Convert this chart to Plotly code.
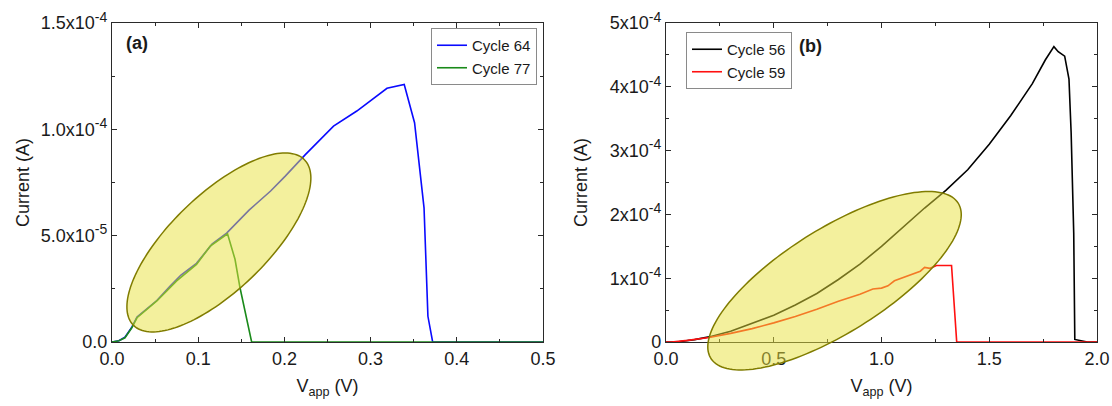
import numpy as np
import plotly.graph_objects as go

W, H = 1112, 406

# ---------------- data: panel (a) ----------------
v_c64 = [0, 0.008, 0.015, 0.023, 0.029, 0.040, 0.052, 0.068, 0.080, 0.098, 0.116, 0.133,
         0.159, 0.184, 0.201, 0.224, 0.257, 0.284, 0.319, 0.339, 0.351, 0.362, 0.3665, 0.372, 0.5]
i_c64 = [0, 6e-7, 2.2e-6, 7.0e-6, 1.18e-5, 1.55e-5, 1.95e-5, 2.65e-5, 3.15e-5, 3.7e-5, 4.6e-5, 5.12e-5,
         6.2e-5, 7.1e-5, 7.8e-5, 8.8e-5, 1.015e-4, 1.086e-4, 1.193e-4, 1.211e-4, 1.031e-4, 6.31e-5, 1.21e-5, 0, 0]

v_c77 = [0, 0.008, 0.015, 0.023, 0.029, 0.040, 0.052, 0.075, 0.098, 0.114, 0.134, 0.1427, 0.1485, 0.162, 0.5]
i_c77 = [0, 6e-7, 2.0e-6, 6.7e-6, 1.14e-5, 1.5e-5, 1.93e-5, 2.87e-5, 3.65e-5, 4.51e-5, 5.09e-5, 3.89e-5, 2.55e-5, 0, 0]

# ---------------- data: panel (b) ----------------
v_c56 = [0, 0.05, 0.133, 0.2, 0.3, 0.4, 0.5, 0.6, 0.7, 0.8, 0.9, 1.0, 1.1, 1.2, 1.3, 1.4, 1.5,
         1.6, 1.7, 1.76, 1.8, 1.82, 1.85, 1.87, 1.88, 1.892, 1.897, 1.92, 1.955, 2.0]
i_c56 = [0, 0, 3.7e-6, 8e-6, 1.7e-5, 2.9e-5, 4.2e-5, 5.8e-5, 7.6e-5, 9.8e-5, 1.22e-4, 1.5e-4, 1.8e-4,
         2.1e-4, 2.38e-4, 2.7e-4, 3.1e-4, 3.55e-4, 4.05e-4, 4.42e-4, 4.63e-4, 4.55e-4, 4.48e-4,
         4.12e-4, 3.28e-4, 1.71e-4, 4e-6, 2e-6, 0, 0]

v_c59 = [0, 0.026, 0.1, 0.2, 0.3, 0.4, 0.5, 0.6, 0.7, 0.8, 0.9, 0.96, 1.0, 1.03, 1.06, 1.12, 1.18,
         1.2, 1.225, 1.255, 1.325, 1.349, 2.0]
i_c59 = [0, 0, 2.5e-6, 7e-6, 1.35e-5, 2.1e-5, 3.0e-5, 4.0e-5, 5.15e-5, 6.4e-5, 7.5e-5, 8.3e-5, 8.45e-5,
         8.8e-5, 9.6e-5, 1.04e-4, 1.11e-4, 1.17e-4, 1.155e-4, 1.2e-4, 1.2e-4, 0, 0]

# ---------------- ticks ----------------
SUP = "<sup><span style='font-size:14px'>%s</span></sup>"
a_xticks = [0, 0.1, 0.2, 0.3, 0.4, 0.5]
a_xlabels = ["0.0", "0.1", "0.2", "0.3", "0.4", "0.5"]
a_yticks = [0, 5e-5, 1e-4, 1.5e-4]
a_ylabels = ["0.0", "5.0x10" + SUP % "-5", "1.0x10" + SUP % "-4", "1.5x10" + SUP % "-4"]
b_xticks = [0, 0.5, 1.0, 1.5, 2.0]
b_xlabels = ["0.0", "0.5", "1.0", "1.5", "2.0"]
b_yticks = [0, 1e-4, 2e-4, 3e-4, 4e-4, 5e-4]
b_ylabels = ["0"] + ["%dx10" % k + SUP % "-4" for k in range(1, 6)]

# ---------------- layout geometry ----------------
a_xrange, a_yrange = [0, 0.5], [0, 1.5e-4]
b_xrange, b_yrange = [0, 2.0], [0, 5e-4]
a_xdom = [112 / W, 543 / W]
b_xdom = [666 / W, 1097 / W]
ydom = [64 / H, 383 / H]

# highlight ellipses: centre (data), semi-axes (px), rotation (deg)
ell_a = dict(cx=0.124, cy=4.68e-5, a=119, b=48, ang=43.9)
ell_b = dict(cx=0.782, cy=9.6e-5, a=146, b=52, ang=32.1)


def ellipse_path(e, xr, yr, xdom):
    """Ellipse outline, positioned via the axis scale, returned as a paper-coordinate SVG path."""
    pw = (xdom[1] - xdom[0]) * W
    ph = (ydom[1] - ydom[0]) * H
    sx = pw / (xr[1] - xr[0])
    sy = ph / (yr[1] - yr[0])
    t = np.linspace(0, 2 * np.pi, 160)
    th = np.radians(e["ang"])
    px = e["a"] * np.cos(t) * np.cos(th) - e["b"] * np.sin(t) * np.sin(th)
    py = e["a"] * np.cos(t) * np.sin(th) + e["b"] * np.sin(t) * np.cos(th)
    cxp = (e["cx"] - xr[0]) * sx
    cyp = (e["cy"] - yr[0]) * sy
    X = xdom[0] + (cxp + px) / W
    Y = ydom[0] + (cyp + py) / H
    pts = ["%s%.5f,%.5f" % ("M" if k == 0 else "L", X[k], Y[k]) for k in range(len(t))]
    return " ".join(pts) + " Z"


FONT = "Arial, 'Liberation Sans', sans-serif"
AXC = "#2a2a2a"
TXT = "#1a1a1a"
fig = go.Figure()

lw = 1.6
fig.add_trace(go.Scatter(x=v_c64, y=i_c64, mode="lines", name="Cycle 64",
                         line=dict(color="#0a0aff", width=lw), xaxis="x", yaxis="y", legend="legend"))
fig.add_trace(go.Scatter(x=v_c77, y=i_c77, mode="lines", name="Cycle 77",
                         line=dict(color="#1a8a1a", width=lw), xaxis="x", yaxis="y", legend="legend"))
fig.add_trace(go.Scatter(x=v_c56, y=i_c56, mode="lines", name="Cycle 56",
                         line=dict(color="#000000", width=lw), xaxis="x2", yaxis="y2", legend="legend2"))
fig.add_trace(go.Scatter(x=v_c59, y=i_c59, mode="lines", name="Cycle 59",
                         line=dict(color="#ff1010", width=lw), xaxis="x2", yaxis="y2", legend="legend2"))

shapes = []
for e, xr, yr, xd in [(ell_a, a_xrange, a_yrange, a_xdom), (ell_b, b_xrange, b_yrange, b_xdom)]:
    shapes.append(dict(type="path", xref="paper", yref="paper", path=ellipse_path(e, xr, yr, xd),
                       fillcolor="rgba(232,226,60,0.5)", line=dict(color="rgb(128,124,0)", width=1.5),
                       layer="above"))


def xax(dom, rng, tv, tt, minor, anchor):
    return dict(domain=dom, range=rng, anchor=anchor, tickmode="array", tickvals=tv, ticktext=tt,
                ticks="inside", ticklen=5, tickwidth=1.2, tickcolor=AXC, automargin=False,
                minor=dict(tickvals=minor, ticks="inside", ticklen=3, tickwidth=1.2, tickcolor=AXC),
                showline=True, linecolor=AXC, linewidth=1.3, mirror="ticks",
                showgrid=False, zeroline=False,
                tickfont=dict(family=FONT, size=18, color=TXT),
                title=dict(text="V<sub>app</sub> (V)", font=dict(family=FONT, size=18, color=TXT),
                           standoff=11))


def yax(dom, rng, tv, tt, minor, anchor, standoff):
    return dict(domain=dom, range=rng, anchor=anchor, tickmode="array", tickvals=tv, ticktext=tt,
                ticks="inside", ticklen=5, tickwidth=1.2, tickcolor=AXC, automargin=False,
                minor=dict(tickvals=minor, ticks="inside", ticklen=3, tickwidth=1.2, tickcolor=AXC),
                showline=True, linecolor=AXC, linewidth=1.3, mirror="ticks",
                showgrid=False, zeroline=False,
                tickfont=dict(family=FONT, size=18, color=TXT),
                title=dict(text="Current (A)", font=dict(family=FONT, size=18, color=TXT),
                           standoff=standoff))


fig.update_layout(
    template="none",
    width=W, height=H, autosize=False,
    margin=dict(l=0, r=0, t=0, b=0, pad=0),
    paper_bgcolor="white", plot_bgcolor="white",
    font=dict(family=FONT),
    xaxis=xax(a_xdom, a_xrange, a_xticks, a_xlabels, [0.05, 0.15, 0.25, 0.35, 0.45], "y"),
    yaxis=yax(ydom, a_yrange, a_yticks, a_ylabels, [2.5e-5, 7.5e-5, 1.25e-4], "x", 6),
    xaxis2=xax(b_xdom, b_xrange, b_xticks, b_xlabels, [0.25, 0.75, 1.25, 1.75], "y2"),
    yaxis2=yax(ydom, b_yrange, b_yticks, b_ylabels, [0.5e-4, 1.5e-4, 2.5e-4, 3.5e-4, 4.5e-4], "x2", 17),
    legend=dict(x=537 / W, y=1 - 28 / H, xanchor="right", yanchor="top",
                bgcolor="white", bordercolor="#8a8a8a", borderwidth=1,
                font=dict(family=FONT, size=15, color=TXT),
                itemwidth=30, tracegroupgap=0),
    legend2=dict(x=686 / W, y=1 - 32 / H, xanchor="left", yanchor="top",
                 bgcolor="white", bordercolor="#8a8a8a", borderwidth=1,
                 font=dict(family=FONT, size=15, color=TXT),
                 itemwidth=30, tracegroupgap=0),
    shapes=shapes,
    annotations=[
        dict(text="<b>(a)</b>", x=124 / W, y=1 - 43 / H, xref="paper", yref="paper",
             xanchor="left", yanchor="middle", showarrow=False,
             font=dict(family=FONT, size=18, color=TXT)),
        dict(text="<b>(b)</b>", x=797 / W, y=1 - 46 / H, xref="paper", yref="paper",
             xanchor="left", yanchor="middle", showarrow=False,
             font=dict(family=FONT, size=18, color=TXT)),
    ],
)

fig.write_html("out.html", config={"displayModeBar": False},
               post_script="document.body.style.margin='0';document.body.style.overflow='hidden';")
